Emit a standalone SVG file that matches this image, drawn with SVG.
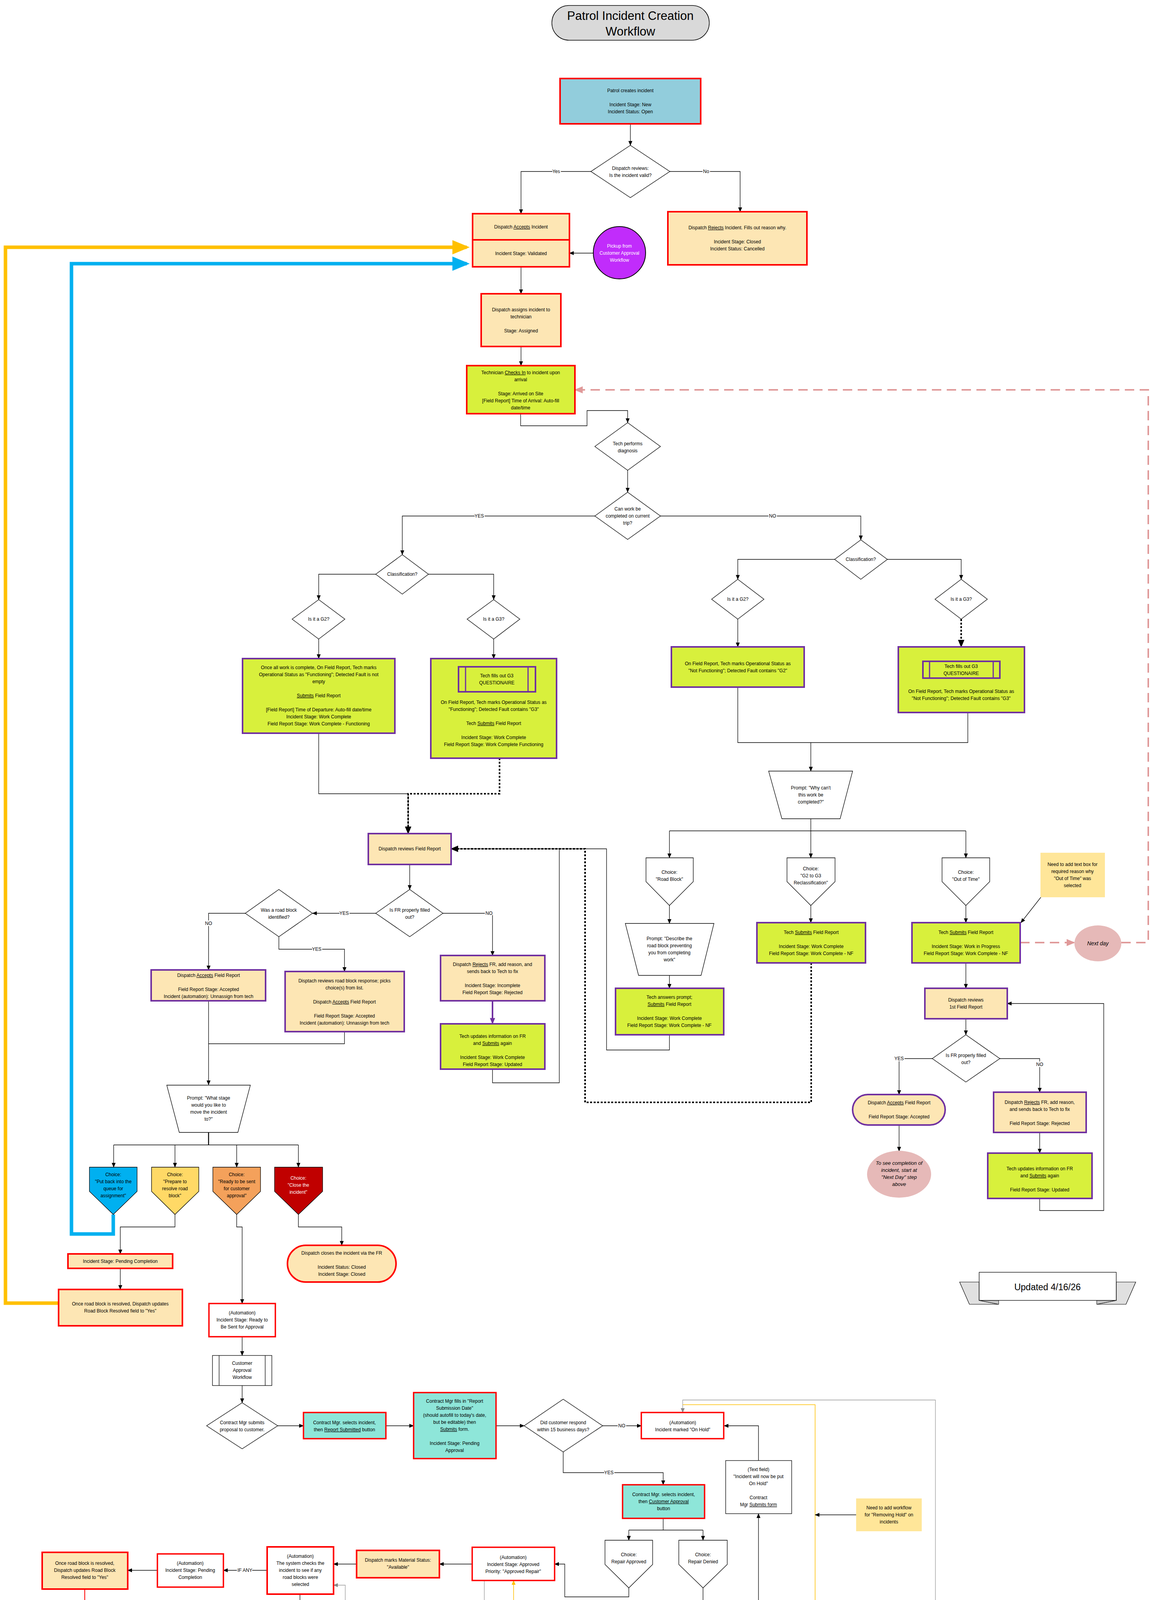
<svg xmlns="http://www.w3.org/2000/svg" width="2947" height="4525" viewBox="0 0 2947 4525">
<style>
text{font-family:"Liberation Sans",Arial,sans-serif;font-size:12px;text-anchor:middle;fill:#000}
.lbl{stroke:#fff;stroke-width:5px;paint-order:stroke}
.w{fill:#fff}
.g{fill:#808080}
.u{text-decoration:underline}
.c{fill:none;stroke:#000;stroke-width:1.3}
.cg{fill:none;stroke:#999;stroke-width:1.3}
.red{fill:#fde6b4;stroke:#ff0000;stroke-width:4}
.redw{fill:#fff;stroke:#ff0000;stroke-width:3.5}
.teal{fill:#8ee6d9;stroke:#ff0000;stroke-width:3.5}
.pl{fill:#d8f03c;stroke:#7030a0;stroke-width:4}
.po{fill:#fde6b4;stroke:#7030a0;stroke-width:4}
.wb{fill:#fff;stroke:#000;stroke-width:1.3}
.gr{fill:#d9d9d9;stroke:#808080;stroke-width:2.5}
.note{fill:#ffe699}
.pink{fill:#e6b9b8}
.dot{fill:none;stroke:#000;stroke-width:4;stroke-dasharray:5 4}
</style>
<defs>
<marker id="a" markerUnits="userSpaceOnUse" markerWidth="12" markerHeight="12" viewBox="0 0 12 12" refX="11" refY="6" orient="auto"><path d="M0,1 L12,6 L0,11 z" fill="#000"/></marker>
<marker id="ab" markerUnits="userSpaceOnUse" markerWidth="20" markerHeight="20" viewBox="0 0 12 12" refX="11" refY="6" orient="auto"><path d="M0,1 L12,6 L0,11 z" fill="#000"/></marker>
<marker id="ag" markerUnits="userSpaceOnUse" markerWidth="12" markerHeight="12" viewBox="0 0 12 12" refX="11" refY="6" orient="auto"><path d="M0,1 L12,6 L0,11 z" fill="#888"/></marker>
<marker id="ap" markerUnits="userSpaceOnUse" markerWidth="16" markerHeight="16" viewBox="0 0 12 12" refX="11" refY="6" orient="auto"><path d="M0,1 L12,6 L0,11 z" fill="#7030a0"/></marker>
<marker id="ar" markerUnits="userSpaceOnUse" markerWidth="14" markerHeight="14" viewBox="0 0 12 12" refX="11" refY="6" orient="auto"><path d="M0,1 L12,6 L0,11 z" fill="#ff0000"/></marker>
<marker id="ay" markerUnits="userSpaceOnUse" markerWidth="12" markerHeight="12" viewBox="0 0 12 12" refX="11" refY="6" orient="auto"><path d="M0,1 L12,6 L0,11 z" fill="#ffc000"/></marker>
<marker id="apk" markerUnits="userSpaceOnUse" markerWidth="22" markerHeight="22" viewBox="0 0 12 12" refX="11" refY="6" orient="auto"><path d="M0,1 L12,6 L0,11 z" fill="#e09a9a"/></marker>
<marker id="abl" markerUnits="userSpaceOnUse" markerWidth="44" markerHeight="44" viewBox="0 0 12 12" refX="10" refY="6" orient="auto"><path d="M0,1 L12,6 L0,11 z" fill="#00b0f0"/></marker>
<marker id="aye" markerUnits="userSpaceOnUse" markerWidth="44" markerHeight="44" viewBox="0 0 12 12" refX="10" refY="6" orient="auto"><path d="M0,1 L12,6 L0,11 z" fill="#ffc000"/></marker>
</defs>

<g id="connectors">
<path class="c" d="M1614,317V372" marker-end="url(#a)"/>
<path class="c" d="M1513,439H1334V547" marker-end="url(#a)"/>
<path class="c" d="M1715,439H1895V542" marker-end="url(#a)"/>
<path class="c" d="M1519,648H1458" marker-end="url(#a)"/>
<path class="c" d="M1334,683V752" marker-end="url(#a)"/>
<path class="c" d="M1334,887V936" marker-end="url(#a)"/>
<path class="c" d="M1333,1059V1090H1503V1051H1607V1082" marker-end="url(#a)"/>
<path class="c" d="M1607,1204V1260" marker-end="url(#a)"/>
<path class="c" d="M1523,1321H1030V1420" marker-end="url(#a)"/>
<path class="c" d="M1691,1321H2204V1382" marker-end="url(#a)"/>
<path class="c" d="M962,1470H816V1535" marker-end="url(#a)"/>
<path class="c" d="M1097,1470H1264V1535" marker-end="url(#a)"/>
<path class="c" d="M816,1636V1686" marker-end="url(#a)"/>
<path class="c" d="M1264,1636V1686" marker-end="url(#a)"/>
<path class="c" d="M816,1877V2032H1045V2134" marker-end="url(#a)"/>
<path class="dot" d="M1279,1941V2032H1045V2120"/>
<path class="c" d="M1045,2120V2134" marker-end="url(#ab)"/>
<path class="c" d="M1049,2213V2277" marker-end="url(#a)"/>
<path class="c" d="M962,2338H800" marker-end="url(#a)"/>
<path class="c" d="M628,2338H534V2483" marker-end="url(#a)"/>
<path class="c" d="M714,2398V2430H882V2487" marker-end="url(#a)"/>
<path class="c" d="M1134,2338H1261V2446" marker-end="url(#a)"/>
<path d="M1261,2562V2621" fill="none" stroke="#7030a0" stroke-width="4" marker-end="url(#ap)"/>
<path class="c" d="M1261,2737V2772H1432V2173H1155" marker-end="url(#ab)"/>
<path class="c" d="M534,2562V2777" marker-end="url(#a)"/>
<path class="c" d="M882,2641V2672H534"/>
<path d="M534,2899V2931" stroke="#000" stroke-width="2.5"/>
<path class="c" d="M291,2931H764"/>
<path class="c" d="M291,2931V2988" marker-end="url(#a)"/>
<path class="c" d="M448,2931V2988" marker-end="url(#a)"/>
<path class="c" d="M606,2931V2988" marker-end="url(#a)"/>
<path class="c" d="M764,2931V2988" marker-end="url(#a)"/>
<path d="M290,3109V3159H183V675H1195" fill="none" stroke="#00b0f0" stroke-width="9" marker-end="url(#abl)"/>
<path d="M150,3336H14V633H1195" fill="none" stroke="#ffc000" stroke-width="9" marker-end="url(#aye)"/>
<path class="c" d="M448,3109V3141H308V3210" marker-end="url(#a)"/>
<path class="c" d="M308,3247V3301" marker-end="url(#a)"/>
<path class="c" d="M606,3109V3141H620V3337" marker-end="url(#a)"/>
<path class="c" d="M764,3109V3141H875V3188" marker-end="url(#a)"/>
<path class="c" d="M620,3422V3470" marker-end="url(#a)"/>
<path class="c" d="M620,3547V3591" marker-end="url(#a)"/>
<path class="c" d="M711,3650H777" marker-end="url(#a)"/>
<path class="c" d="M988,3650H1059" marker-end="url(#a)"/>
<path class="c" d="M1270,3650H1342" marker-end="url(#a)"/>
<path class="c" d="M1543,3650H1642" marker-end="url(#a)"/>
<path class="c" d="M1442,3717V3770H1698V3801" marker-end="url(#a)"/>
<path class="c" d="M1698,3887V3917"/>
<path class="c" d="M1610,3917H1800"/>
<path class="c" d="M1610,3917V3943" marker-end="url(#a)"/>
<path class="c" d="M1800,3917V3943" marker-end="url(#a)"/>
<path class="c" d="M1610,4065V4088H1446V4004H1420" marker-end="url(#a)"/>
<path class="c" d="M1800,4065V4098H1942V3875" marker-end="url(#a)"/>
<path class="c" d="M1942,3739V3650H1854" marker-end="url(#a)"/>
<path class="cg" d="M1687,4483V4515H2395V3584H1748V3616" marker-end="url(#ag)"/>
<path d="M1748,3596H2087V4138H1315V4046" fill="none" stroke="#ffc000" stroke-width="1.5" marker-end="url(#ay)"/>
<path class="c" d="M2192,3878H2087" marker-end="url(#a)"/>
<path class="c" d="M1209,4004H1125" marker-end="url(#a)"/>
<path class="c" d="M913,4004H854" marker-end="url(#a)"/>
<path class="c" d="M684,4020H572" marker-end="url(#a)"/>
<path class="c" d="M403,4020H327" marker-end="url(#a)"/>
<path class="c" d="M768,4081V4163" marker-end="url(#a)"/>
<path d="M217,4068V4230H700" fill="none" stroke="#ff0000" stroke-width="2" marker-end="url(#ar)"/>
<path class="cg" d="M1040,4441H884V4058H854" marker-end="url(#ag)"/>
<path class="cg" d="M1240,4046V4190H1397V4228" marker-end="url(#ag)"/>
<path class="cg" d="M1397,4296V4373" marker-end="url(#ag)"/>
<path d="M1296,4440H1209" fill="none" stroke="#808080" stroke-width="2.5" marker-end="url(#ag)"/>
<path d="M1498,4440H1594" fill="none" stroke="#808080" stroke-width="2.5" marker-end="url(#ag)"/>
<path class="c" d="M2137,1432H1889V1483" marker-end="url(#a)"/>
<path class="c" d="M2272,1432H2461V1483" marker-end="url(#a)"/>
<path class="c" d="M1889,1585V1656" marker-end="url(#a)"/>
<path class="dot" d="M2461,1585V1640"/>
<path class="c" d="M2461,1640V1656" marker-end="url(#ab)"/>
<path class="c" d="M1889,1759V1901H2478V1824"/>
<path class="c" d="M2076,1901V1974" marker-end="url(#a)"/>
<path class="c" d="M2076,2096V2127"/>
<path class="c" d="M1714,2127H2473"/>
<path class="c" d="M1714,2127V2196" marker-end="url(#a)"/>
<path class="c" d="M2076,2127V2196" marker-end="url(#a)"/>
<path class="c" d="M2473,2127V2196" marker-end="url(#a)"/>
<path class="c" d="M1714,2318V2364" marker-end="url(#a)"/>
<path class="c" d="M1714,2497V2530" marker-end="url(#a)"/>
<path class="c" d="M1714,2649V2688H1553V2173H1432"/>
<path class="c" d="M2076,2318V2362" marker-end="url(#a)"/>
<path class="dot" d="M2077,2465V2822H1498V2173H1165"/>
<path class="c" d="M2473,2318V2362" marker-end="url(#a)"/>
<path class="c" d="M2665,2297L2614,2362" marker-end="url(#a)"/>
<path d="M2612,2413H2751" fill="none" stroke="#e09a9a" stroke-width="4" stroke-dasharray="24 14" marker-end="url(#apk)"/>
<path d="M2871,2413H2940V998H1472" fill="none" stroke="#e09a9a" stroke-width="4" stroke-dasharray="24 14" marker-end="url(#apk)"/>
<path class="c" d="M2473,2465V2530" marker-end="url(#a)"/>
<path class="c" d="M2473,2608V2649" marker-end="url(#a)"/>
<path class="c" d="M2387,2710H2302V2802" marker-end="url(#a)"/>
<path class="c" d="M2560,2710H2662V2796" marker-end="url(#a)"/>
<path class="c" d="M2302,2880V2947" marker-end="url(#a)"/>
<path class="c" d="M2662,2899V2952" marker-end="url(#a)"/>
<path class="c" d="M2662,3068V3099H2826V2569H2579" marker-end="url(#a)"/>
<text class="lbl" x="1424" y="443">Yes</text>
<text class="lbl" x="1808" y="443">No</text>
<text class="lbl" x="1227" y="1325">YES</text>
<text class="lbl" x="1978" y="1325">NO</text>
<text class="lbl" x="881" y="2342">YES</text>
<text class="lbl" x="534" y="2368">NO</text>
<text class="lbl" x="811" y="2434">YES</text>
<text class="lbl" x="1252" y="2342">NO</text>
<text class="lbl" x="1592" y="3654">NO</text>
<text class="lbl" x="1559" y="3774">YES</text>
<text class="lbl" x="627" y="4024">IF ANY</text>
<text class="lbl" x="768" y="4125">IF NONE</text>
<text class="lbl g" x="1241" y="4175">FUTURE STATE</text>
<text class="lbl g" x="1253" y="4444">YES</text>
<text class="lbl g" x="1546" y="4444">NO</text>
<text class="lbl" x="2302" y="2714">YES</text>
<text class="lbl" x="2662" y="2729">NO</text>
</g>

<g id="title"><rect x="1413" y="14" width="403" height="89" rx="44" fill="#d9d9d9" stroke="#000" stroke-width="1.5"/><text x="1614" y="51" style="font-size:31px">Patrol Incident Creation</text><text x="1614" y="91" style="font-size:31px">Workflow</text></g>

<g id="patrol"><rect x="1434" y="201" width="360" height="116" fill="#92cddc" stroke="#ff0000" stroke-width="4"/><text x="1614" y="236">Patrol creates incident</text><text x="1614" y="272">Incident Stage: New</text><text x="1614" y="290">Incident Status: Open</text></g>

<g id="valid"><polygon class="wb" points="1614,372 1715,439 1614,506 1513,439"/><text x="1614" y="435">Dispatch reviews:</text><text x="1614" y="453">Is the incident valid?</text></g>

<g id="accepts"><rect class="red" x="1210" y="547" width="248" height="136"/><line x1="1210" y1="614" x2="1458" y2="614" stroke="#ff0000" stroke-width="4"/><text x="1334" y="585">Dispatch <tspan class="u">Accepts</tspan> Incident</text><text x="1334" y="653">Incident Stage: Validated</text></g>

<g id="rejects"><rect class="red" x="1710" y="542" width="356" height="136"/><text x="1888" y="587">Dispatch <tspan class="u">Rejects</tspan> Incident. Fills out reason why.</text><text x="1888" y="623">Incident Stage: Closed</text><text x="1888" y="641">Incident Status: Cancelled</text></g>

<g id="pickup"><ellipse cx="1586" cy="647" rx="67" ry="67" fill="#c12cfb" stroke="#000" stroke-width="2"/><text class="w" x="1586" y="634">Pickup from</text><text class="w" x="1586" y="652">Customer Approval</text><text class="w" x="1586" y="670">Workflow</text></g>

<g id="assign"><rect class="red" x="1232" y="752" width="204" height="135"/><text x="1334" y="797">Dispatch assigns incident to</text><text x="1334" y="815">technician</text><text x="1334" y="851">Stage: Assigned</text></g>

<g id="checkin"><rect x="1195" y="936" width="277" height="123" fill="#d8f03c" stroke="#ff0000" stroke-width="4"/><text x="1333" y="958">Technician <tspan class="u">Checks In</tspan> to incident upon</text><text x="1333" y="976">arrival</text><text x="1333" y="1012">Stage: Arrived on Site</text><text x="1333" y="1030">[Field Report] Time of Arrival: Auto-fill</text><text x="1333" y="1048">date/time</text></g>

<g id="diag"><polygon class="wb" points="1607,1082 1691,1143 1607,1204 1523,1143"/><text x="1607" y="1140">Tech performs</text><text x="1607" y="1158">diagnosis</text></g>

<g id="canwork"><polygon class="wb" points="1607,1260 1691,1321 1607,1381 1523,1321"/><text x="1607" y="1307">Can work be</text><text x="1607" y="1325">completed on current</text><text x="1607" y="1343">trip?</text></g>

<g id="class1"><polygon class="wb" points="1030,1420 1097,1470 1030,1521 962,1470"/><text x="1030" y="1474">Classification?</text></g>
<g id="g2a"><polygon class="wb" points="816,1535 883,1585 816,1636 748,1585"/><text x="816" y="1589">Is it a G2?</text></g>
<g id="g3a"><polygon class="wb" points="1264,1535 1331,1585 1264,1636 1196,1585"/><text x="1264" y="1589">Is it a G3?</text></g>

<g id="g2box"><rect class="pl" x="621" y="1686" width="390" height="191"/><text x="816" y="1713">Once all work is complete, On Field Report, Tech marks</text><text x="816" y="1731">Operational Status as "Functioning"; Detected Fault is not</text><text x="816" y="1749">empty</text><text x="816" y="1785"><tspan class="u">Submits</tspan> Field Report</text><text x="816" y="1821">[Field Report] Time of Departure: Auto-fill date/time</text><text x="816" y="1839">Incident Stage: Work Complete</text><text x="816" y="1857">Field Report Stage: Work Complete - Functioning</text></g>

<g id="g3box"><rect class="pl" x="1103" y="1686" width="322" height="255"/><rect x="1174" y="1707" width="197" height="64" fill="none" stroke="#7030a0" stroke-width="4"/><line x1="1192" y1="1707" x2="1192" y2="1771" stroke="#7030a0" stroke-width="3"/><line x1="1352" y1="1707" x2="1352" y2="1771" stroke="#7030a0" stroke-width="3"/><text x="1272" y="1734">Tech fills out G3</text><text x="1272" y="1752">QUESTIONAIRE</text><text x="1264" y="1802">On Field Report, Tech marks Operational Status as</text><text x="1264" y="1820">"Functioning"; Detected Fault contains "G3"</text><text x="1264" y="1856">Tech <tspan class="u">Submits</tspan> Field Report</text><text x="1264" y="1892">Incident Stage: Work Complete</text><text x="1264" y="1910">Field Report Stage: Work Complete Functioning</text></g>

<g id="reviewfr"><rect class="po" x="943" y="2134" width="212" height="79"/><text x="1049" y="2177">Dispatch reviews Field Report</text></g>
<g id="frok"><polygon class="wb" points="1049,2277 1134,2338 1049,2398 962,2338"/><text x="1049" y="2334">Is FR properly filled</text><text x="1049" y="2352">out?</text></g>
<g id="roadq"><polygon class="wb" points="714,2277 800,2338 714,2398 628,2338"/><text x="714" y="2334">Was a road block</text><text x="714" y="2352">identified?</text></g>

<g id="accfr"><rect class="po" x="387" y="2483" width="293" height="79"/><text x="534" y="2501">Dispatch <tspan class="u">Accepts</tspan> Field Report</text><text x="534" y="2537">Field Report Stage: Accepted</text><text x="534" y="2555">Incident (automation): Unnassign from tech</text></g>

<g id="roadresp"><rect class="po" x="730" y="2487" width="305" height="154"/><text x="882" y="2515">Disptach reviews road block response; picks</text><text x="882" y="2533">choice(s) from list.</text><text x="882" y="2569">Dispatch <tspan class="u">Accepts</tspan> Field Report</text><text x="882" y="2605">Field Report Stage: Accepted</text><text x="882" y="2623">Incident (automation): Unnassign from tech</text></g>

<g id="rejfr"><rect class="po" x="1128" y="2446" width="267" height="116"/><text x="1261" y="2473">Dispatch <tspan class="u">Rejects</tspan> FR, add reason, and</text><text x="1261" y="2491">sends back to Tech to fix</text><text x="1261" y="2527">Incident Stage: Incomplete</text><text x="1261" y="2545">Field Report Stage: Rejected</text></g>

<g id="techupd"><rect class="pl" x="1128" y="2621" width="267" height="116"/><text x="1261" y="2657">Tech updates information on FR</text><text x="1261" y="2675">and <tspan class="u">Submits</tspan> again</text><text x="1261" y="2711">Incident Stage: Work Complete</text><text x="1261" y="2729">Field Report Stage: Updated</text></g>

<g id="promptstage"><polygon class="wb" points="427,2778 641,2778 609,2899 459,2899"/><text x="534" y="2815">Prompt: "What stage</text><text x="534" y="2833">would you like to</text><text x="534" y="2851">move the incident</text><text x="534" y="2869">to?"</text></g>

<g id="chblue"><polygon points="229,2988 351,2988 351,3050 290,3109 229,3050" fill="#00b0f0" stroke="#000" stroke-width="1.3"/><text x="290" y="3011">Choice:</text><text x="290" y="3029">"Put back into the</text><text x="290" y="3047">queue for</text><text x="290" y="3065">assignment"</text></g>
<g id="chyellow"><polygon points="388,2988 509,2988 509,3050 448,3109 388,3050" fill="#ffd966" stroke="#000" stroke-width="1.3"/><text x="448" y="3011">Choice:</text><text x="448" y="3029">"Prepare to</text><text x="448" y="3047">resolve road</text><text x="448" y="3065">block"</text></g>
<g id="chorange"><polygon points="545,2988 667,2988 667,3050 606,3109 545,3050" fill="#f4a15b" stroke="#000" stroke-width="1.3"/><text x="606" y="3011">Choice:</text><text x="606" y="3029">"Ready to be sent</text><text x="606" y="3047">for customer</text><text x="606" y="3065">approval"</text></g>
<g id="chred"><polygon points="703,2988 826,2988 826,3050 764,3109 703,3050" fill="#c00000" stroke="#000" stroke-width="1.3"/><text class="w" x="764" y="3020">Choice:</text><text class="w" x="764" y="3038">"Close the</text><text class="w" x="764" y="3056">incident"</text></g>

<g id="pendcomp"><rect class="red" x="174" y="3210" width="268" height="37"/><text x="308" y="3233">Incident Stage: Pending Completion</text></g>
<g id="roadres1"><rect class="red" x="150" y="3301" width="317" height="93"/><text x="308" y="3342">Once road block is resolved, Dispatch updates</text><text x="308" y="3360">Road Block Resolved field to "Yes"</text></g>
<g id="autoready"><rect class="redw" x="535" y="3337" width="170" height="85"/><text x="620" y="3365">(Automation)</text><text x="620" y="3383">Incident Stage: Ready to</text><text x="620" y="3401">Be Sent for Approval</text></g>
<g id="closepill"><rect class="red" x="736" y="3188" width="278" height="94" rx="47"/><text x="875" y="3212">Dispatch closes the incident via the FR</text><text x="875" y="3248">Incident Status: Closed</text><text x="875" y="3266">Incident Stage: Closed</text></g>
<g id="cawf"><rect class="wb" x="544" y="3470" width="152" height="77"/><line x1="561" y1="3470" x2="561" y2="3547" stroke="#000" stroke-width="1.3"/><line x1="679" y1="3470" x2="679" y2="3547" stroke="#000" stroke-width="1.3"/><text x="620" y="3494">Customer</text><text x="620" y="3512">Approval</text><text x="620" y="3530">Workflow</text></g>

<g id="cmsubmit"><polygon class="wb" points="620,3591 711,3650 620,3709 529,3650"/><text x="620" y="3646">Contract Mgr submits</text><text x="620" y="3664">proposal to customer.</text></g>
<g id="repsub"><rect class="teal" x="777" y="3616" width="211" height="67"/><text x="882" y="3646">Contract Mgr. selects incident,</text><text x="882" y="3664">then <tspan class="u">Report Submitted</tspan> button</text></g>
<g id="fillsin"><rect class="teal" x="1059" y="3565" width="211" height="169"/><text x="1164" y="3591">Contract Mgr fills in "Report</text><text x="1164" y="3609">Submission Date"</text><text x="1164" y="3627">(should autofill to today's date,</text><text x="1164" y="3645">but be editable) then</text><text x="1164" y="3663"><tspan class="u">Submits</tspan> form.</text><text x="1164" y="3699">Incident Stage: Pending</text><text x="1164" y="3717">Approval</text></g>
<g id="custresp"><polygon class="wb" points="1442,3582 1543,3650 1442,3717 1342,3650"/><text x="1442" y="3646">Did customer respond</text><text x="1442" y="3664">within 15 business days?</text></g>
<g id="onhold"><rect class="redw" x="1642" y="3616" width="211" height="67"/><text x="1748" y="3646">(Automation)</text><text x="1748" y="3664">Incident marked "On Hold"</text></g>
<g id="custappr"><rect class="teal" x="1594" y="3801" width="210" height="86"/><text x="1699" y="3830">Contract Mgr. selects incident,</text><text x="1699" y="3848">then <tspan class="u">Customer Approval</tspan></text><text x="1699" y="3866">button</text></g>
<g id="repappr"><polygon class="wb" points="1549,3943 1671,3943 1671,4005 1610,4065 1549,4005"/><text x="1610" y="3984">Choice:</text><text x="1610" y="4002">Repair Approved</text></g>
<g id="repden"><polygon class="wb" points="1738,3943 1862,3943 1862,4005 1800,4065 1738,4005"/><text x="1800" y="3984">Choice:</text><text x="1800" y="4002">Repair Denied</text></g>
<g id="textfield"><rect class="wb" x="1858" y="3739" width="169" height="136"/><text x="1942" y="3766">(Text field)</text><text x="1942" y="3784">"Incident will now be put</text><text x="1942" y="3802">On Hold"</text><text x="1942" y="3838">Contract</text><text x="1942" y="3856">Mgr <tspan class="u">Submits form</tspan></text></g>
<g id="noteHold"><rect class="note" x="2192" y="3836" width="168" height="84"/><text x="2276" y="3864">Need to add workflow</text><text x="2276" y="3882">for "Removing Hold" on</text><text x="2276" y="3900">incidents</text></g>
<g id="autoappr"><rect class="redw" x="1209" y="3961" width="211" height="85"/><text x="1314" y="3991">(Automation)</text><text x="1314" y="4009">Incident Stage: Approved</text><text x="1314" y="4027">Priority: "Approved Repair"</text></g>
<g id="matavail"><rect class="red" x="913" y="3969" width="212" height="70"/><text x="1019" y="3998">Dispatch marks Material Status:</text><text x="1019" y="4016">"Available"</text></g>
<g id="checksrb"><rect class="redw" x="684" y="3960" width="170" height="121" style="stroke-width:4"/><text x="769" y="3988">(Automation)</text><text x="769" y="4006">The system checks the</text><text x="769" y="4024">incident to see if any</text><text x="769" y="4042">road blocks were</text><text x="769" y="4060">selected</text></g>
<g id="pendcomp2"><rect class="redw" x="403" y="3978" width="169" height="85"/><text x="487" y="4006">(Automation)</text><text x="487" y="4024">Incident Stage: Pending</text><text x="487" y="4042">Completion</text></g>
<g id="roadres2"><rect class="red" x="108" y="3974" width="219" height="94"/><text x="217" y="4006">Once road block is resolved,</text><text x="217" y="4024">Dispatch updates Road Block</text><text x="217" y="4042">Resolved field to "Yes"</text></g>
<g id="jump"><ellipse cx="768" cy="4230" rx="68" ry="67" fill="#c12cfb" stroke="#000" stroke-width="2"/><text class="w" x="768" y="4226">Jumpt to Incident</text><text class="w" x="768" y="4244">Stage: Validated</text></g>
<g id="matreq"><rect class="gr" x="1292" y="4228" width="210" height="68"/><text class="g" x="1397" y="4258">Dispatch creates material</text><text class="g" x="1397" y="4276">requisition</text></g>
<g id="matq"><polygon class="gr" points="1397,4373 1498,4440 1397,4508 1296,4440"/><text class="g" x="1397" y="4436">Is material available in</text><text class="g" x="1397" y="4454">warehouse?</text></g>
<g id="reserved"><rect class="gr" x="1040" y="4407" width="169" height="67"/><text class="g" x="1124" y="4436">WH: Material Requisition</text><text class="g" x="1124" y="4454">marked "Reserved"</text></g>
<g id="whorder"><rect class="gr" x="1594" y="4399" width="187" height="84"/><text class="g" x="1687" y="4427">WH Mgr orders material.</text><text class="g" x="1687" y="4463">Material arrives</text></g>

<g id="class2"><polygon class="wb" points="2204,1382 2272,1432 2204,1483 2137,1432"/><text x="2204" y="1436">Classification?</text></g>
<g id="g2b"><polygon class="wb" points="1889,1483 1956,1534 1889,1585 1822,1534"/><text x="1889" y="1538">Is it a G2?</text></g>
<g id="g3b"><polygon class="wb" points="2461,1483 2528,1534 2461,1585 2394,1534"/><text x="2461" y="1538">Is it a G3?</text></g>
<g id="g2nf"><rect class="pl" x="1719" y="1656" width="340" height="103"/><text x="1889" y="1703">On Field Report, Tech marks Operational Status as</text><text x="1889" y="1721">"Not Functioning"; Detected Fault contains "G2"</text></g>
<g id="g3nf"><rect class="pl" x="2300" y="1656" width="323" height="168"/><rect x="2363" y="1693" width="197" height="43" fill="none" stroke="#7030a0" stroke-width="4"/><line x1="2380" y1="1693" x2="2380" y2="1736" stroke="#7030a0" stroke-width="3"/><line x1="2543" y1="1693" x2="2543" y2="1736" stroke="#7030a0" stroke-width="3"/><text x="2461" y="1710">Tech fills out G3</text><text x="2461" y="1728">QUESTIONAIRE</text><text x="2461" y="1774">On Field Report, Tech marks Operational Status as</text><text x="2461" y="1792">"Not Functioning"; Detected Fault contains "G3"</text></g>
<g id="promptwhy"><polygon class="wb" points="1968,1974 2183,1974 2151,2096 2002,2096"/><text x="2076" y="2021">Prompt: "Why can't</text><text x="2076" y="2039">this work be</text><text x="2076" y="2057">completed?"</text></g>
<g id="chroad"><polygon class="wb" points="1654,2196 1775,2196 1775,2257 1714,2318 1654,2257"/><text x="1714" y="2237">Choice:</text><text x="1714" y="2255">"Road Block"</text></g>
<g id="chg2g3"><polygon class="wb" points="2015,2196 2138,2196 2138,2257 2076,2318 2015,2257"/><text x="2076" y="2228">Choice:</text><text x="2076" y="2246">"G2 to G3</text><text x="2076" y="2264">Reclassification"</text></g>
<g id="chtime"><polygon class="wb" points="2412,2196 2534,2196 2534,2257 2473,2318 2412,2257"/><text x="2473" y="2237">Choice:</text><text x="2473" y="2255">"Out of Time"</text></g>
<g id="promptdesc"><polygon class="wb" points="1601,2364 1828,2364 1795,2497 1635,2497"/><text x="1714" y="2407">Prompt: "Describe the</text><text x="1714" y="2425">road block preventing</text><text x="1714" y="2443">you from completing</text><text x="1714" y="2461">work"</text></g>
<g id="techans"><rect class="pl" x="1576" y="2530" width="277" height="119"/><text x="1714" y="2557">Tech answers prompt;</text><text x="1714" y="2575"><tspan class="u">Submits</tspan> Field Report</text><text x="1714" y="2611">Incident Stage: Work Complete</text><text x="1714" y="2629">Field Report Stage: Work Complete - NF</text></g>
<g id="subg2g3"><rect class="pl" x="1938" y="2362" width="278" height="103"/><text x="2077" y="2391">Tech <tspan class="u">Submits</tspan> Field Report</text><text x="2077" y="2427">Incident Stage: Work Complete</text><text x="2077" y="2445">Field Report Stage: Work Complete - NF</text></g>
<g id="subtime"><rect class="pl" x="2335" y="2362" width="277" height="103"/><text x="2473" y="2391">Tech <tspan class="u">Submits</tspan> Field Report</text><text x="2473" y="2427">Incident Stage: Work in Progress</text><text x="2473" y="2445">Field Report Stage: Work Complete - NF</text></g>
<g id="noteTime"><rect class="note" x="2664" y="2183" width="165" height="114"/><text x="2746" y="2217">Need to add text box for</text><text x="2746" y="2235">required reason why</text><text x="2746" y="2253">"Out of Time" was</text><text x="2746" y="2271">selected</text></g>
<g id="nextday"><ellipse class="pink" cx="2811" cy="2415" rx="60" ry="46"/><text x="2811" y="2420" style="font-style:italic;font-size:14px">Next day</text></g>
<g id="review1st"><rect class="po" x="2368" y="2530" width="211" height="78"/><text x="2473" y="2564">Dispatch reviews</text><text x="2473" y="2582">1st Field Report</text></g>
<g id="frok2"><polygon class="wb" points="2473,2649 2560,2710 2473,2770 2387,2710"/><text x="2473" y="2706">Is FR properly filled</text><text x="2473" y="2724">out?</text></g>
<g id="accpill"><rect class="po" x="2183" y="2802" width="237" height="78" rx="39"/><text x="2302" y="2827">Dispatch <tspan class="u">Accepts</tspan> Field Report</text><text x="2302" y="2863">Field Report Stage: Accepted</text></g>
<g id="seecomp"><ellipse class="pink" cx="2302" cy="3006" rx="82" ry="60"/><text x="2302" y="2982" style="font-style:italic;font-size:13px">To see completion of</text><text x="2302" y="3000" style="font-style:italic;font-size:13px">incident, start at</text><text x="2302" y="3018" style="font-style:italic;font-size:13px">"Next Day" step</text><text x="2302" y="3036" style="font-style:italic;font-size:13px">above</text></g>
<g id="rej2"><rect class="po" x="2544" y="2796" width="237" height="103"/><text x="2662" y="2826">Dispatch <tspan class="u">Rejects</tspan> FR, add reason,</text><text x="2662" y="2844">and sends back to Tech to fix</text><text x="2662" y="2880">Field Report Stage: Rejected</text></g>
<g id="techupd2"><rect class="pl" x="2529" y="2952" width="267" height="116"/><text x="2662" y="2996">Tech updates information on FR</text><text x="2662" y="3014">and <tspan class="u">Submits</tspan> again</text><text x="2662" y="3050">Field Report Stage: Updated</text></g>

<g id="updated"><polygon points="2457,3282 2507,3282 2507,3329 2557,3339 2482,3339" fill="#e0e0e0" stroke="#000" stroke-width="1.2"/><polygon points="2908,3282 2858,3282 2858,3329 2808,3339 2883,3339" fill="#e0e0e0" stroke="#000" stroke-width="1.2"/><polygon points="2507,3329 2557,3339 2557,3329" fill="#c8c8c8" stroke="#000" stroke-width="1"/><polygon points="2858,3329 2808,3339 2808,3329" fill="#c8c8c8" stroke="#000" stroke-width="1"/><rect x="2507" y="3257" width="351" height="72" fill="#fff" stroke="#000" stroke-width="1.3"/><text x="2682" y="3303" style="font-size:23px">Updated 4/16/26</text></g>
</svg>
